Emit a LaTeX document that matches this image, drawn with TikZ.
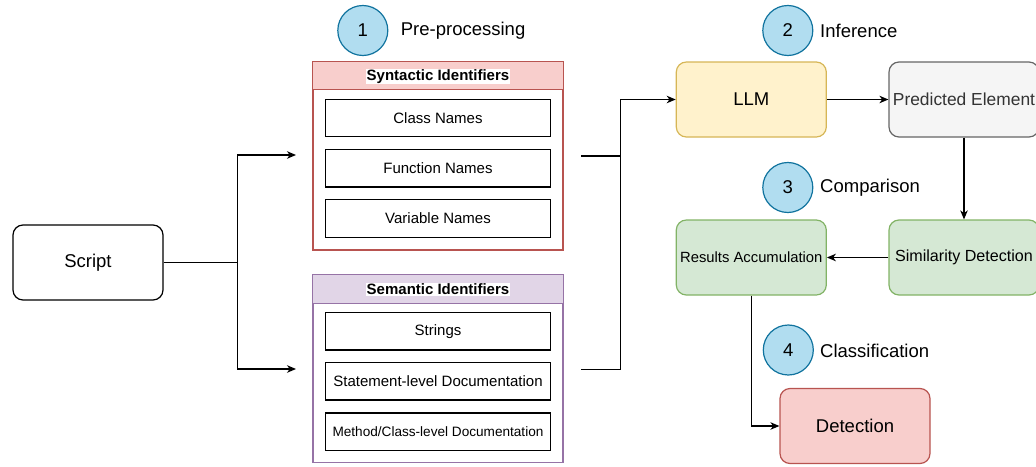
\documentclass[tikz,border=0pt]{standalone}
\usepackage{fontspec}
\setmainfont{Liberation Sans}
\usetikzlibrary{arrows.meta}
\usetikzlibrary{positioning}
\definecolor{stepfill}{HTML}{B1DDF0}
\definecolor{stepline}{HTML}{10739E}
\definecolor{redfill}{HTML}{F8CECC}
\definecolor{redline}{HTML}{B85450}
\definecolor{purplefill}{HTML}{E1D5E7}
\definecolor{purpleline}{HTML}{9673A6}
\definecolor{yellowfill}{HTML}{FFF2CC}
\definecolor{yellowline}{HTML}{D6B656}
\definecolor{greyfill}{HTML}{F5F5F5}
\definecolor{greyline}{HTML}{666666}
\definecolor{greytext}{HTML}{333333}
\definecolor{greenfill}{HTML}{D5E8D4}
\definecolor{greenline}{HTML}{82B366}
\tikzset{stage/.style = {draw, rounded corners = 10pt, line width = 1.2pt, minimum width = 150, minimum height = 75, inner sep = 0, font = \fontsize{18.5}{22}\selectfont}}
\tikzset{stepnum/.style = {circle, draw = stepline, fill = stepfill, line width = 1.2pt, minimum size = 50, inner sep = 0, font = \fontsize{18.5}{22}\selectfont}}
\tikzset{steptext/.style = {inner sep = 0, font = \fontsize{18.5}{22}\selectfont}}
\tikzset{group/.style = {draw, fill = white, line width = 1.2pt, minimum width = 250, minimum height = 188}}
\tikzset{headtext/.style = {fill = white, inner sep = 1pt, font = \bfseries\fontsize{15}{18}\selectfont}}
\tikzset{item/.style = {draw, line width = 1.2pt, minimum width = 225, minimum height = 37.5, inner sep = 0, font = \fontsize{15}{18}\selectfont}}
\tikzset{conn/.style = {line width = 1.2pt, -{Stealth[length = 9pt, width = 7.5pt, inset = 2.7pt]}}}

\begin{document}
\begin{tikzpicture}[x = 1pt, y = -1pt]
          \useasboundingbox (0, 0) rectangle (1036, 466);

          % input
          \node (script) [stage] at (88, 262.5) {Script};
          \coordinate (split) at (237.3, 262.5);
          \coordinate (synin) at (296, 155);
          \coordinate (semin) at (296, 369);

          % pre-processing
          \node (one) [stepnum] at (362.8, 30.5) {1};
          \node [steptext, right] at (400.7, 31) {Pre-processing};

          \node (syn) [group, draw = redline] at (438, 156) {};
          \filldraw [fill = redfill, draw = redline, line width = 1.2pt] (syn.north west) rectangle ([yshift = -28pt] syn.north east);
          \node (synhead) [headtext] at (438, 76.5) {Syntactic Identifiers};
          \node (cls) [item] at (438, 118) {Class Names};
          \node (fun) [item] at (438, 168.3) {Function Names};
          \node (var) [item] at (438, 218.5) {Variable Names};

          \node (sem) [group, draw = purpleline] at (438, 368.7) {};
          \filldraw [fill = purplefill, draw = purpleline, line width = 1.2pt] (sem.north west) rectangle ([yshift = -29pt] sem.north east);
          \node (semhead) [headtext] at (438, 289.5) {Semantic Identifiers};
          \node (str) [item] at (438, 331.2) {Strings};
          \node (stmt) [item] at (438, 381.3) {Statement-level Documentation};
          \node (meth) [item, font = \fontsize{13.6}{16}\selectfont] at (438, 431.7) {Method/Class-level Documentation};

          \coordinate (synout) at (581, 156);
          \coordinate (semout) at (581, 369.3);
          \coordinate (merge) at (620.5, 99.5);

          % inference
          \node (two) [stepnum] at (787.8, 30.5) {2};
          \node [steptext, right] at (820, 31) {Inference};
          \node (llm) [stage, draw = yellowline, fill = yellowfill] at (751.3, 99.5) {LLM};
          \node (pred) [stage, draw = greyline, fill = greyfill, text = greytext, font = \fontsize{17.4}{21}\selectfont] at (964, 99.5) {Predicted Element};

          % comparison
          \node (three) [stepnum] at (787.8, 187.5) {3};
          \node [steptext, right] at (820, 188) {Comparison};
          \node (acc) [stage, draw = greenline, fill = greenfill, font = \fontsize{14.8}{18}\selectfont] at (751.3, 257.5) {Results Accumulation};
          \node (sim) [stage, draw = greenline, fill = greenfill, font = \fontsize{16.1}{19}\selectfont] at (964, 257.5) {Similarity Detection};

          % classification
          \node (four) [stepnum] at (788.3, 350) {4};
          \node [steptext, right] at (820, 350.5) {Classification};
          \node (det) [stage, draw = redline, fill = redfill] at (855, 426) {Detection};

          \draw [line width = 1.2pt] (script) -- (split);
          \draw [conn] (split) |- (synin);
          \draw [conn] (split) |- (semin);
          \draw [line width = 1.2pt] (synout) -- (synout -| merge);
          \draw [conn] (semout) -| (merge) -- (llm);
          \draw [conn] (llm) -- (pred);
          \draw [conn] (pred) -- (sim);
          \draw [conn] (sim) -- (acc);
          \draw [conn] (acc) |- (det);
        \end{tikzpicture}
\end{document}
